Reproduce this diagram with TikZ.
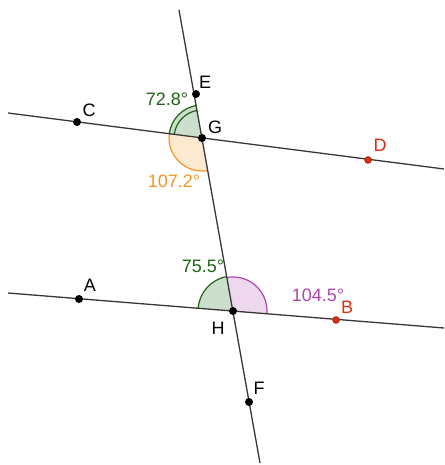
\documentclass[tikz,border=0pt]{standalone}
\usepackage{fontspec}
\setmainfont{Liberation Sans}
\usepackage{xcolor}
\usepackage{tikz}

\definecolor{lineGray}{RGB}{55,55,55}
\definecolor{angGreen}{RGB}{30,100,20}
\definecolor{angGreenFill}{RGB}{204,222,204}
\definecolor{angOrange}{RGB}{245,150,40}
\definecolor{angOrangeFill}{RGB}{252,233,208}
\definecolor{angPink}{RGB}{175,70,175}
\definecolor{angPinkFill}{RGB}{238,216,238}
\definecolor{ptRed}{RGB}{225,45,15}

\tikzset{
    ln/.style={draw=lineGray, line width=1.3pt},
    pt/.style={circle, fill=black, inner sep=0pt, minimum size=8pt},
    ptred/.style={circle, fill=ptRed, draw=ptRed!60!black, line width=0.4pt, inner sep=0pt, minimum size=7pt},
    lbl/.style={font=\fontsize{18}{18}\selectfont, inner sep=0pt},
}

\begin{document}
\begin{tikzpicture}[x=1pt, y=1pt]
    \useasboundingbox (0,0) rectangle (444,465);
    % points
    \coordinate (G) at (202,327);
    \coordinate (H) at (233,154);
    \coordinate (E) at (196,371);
    \coordinate (F) at (249,63);
    \coordinate (C) at (77,343);
    \coordinate (D) at (368,305);
    \coordinate (A) at (79,166);
    \coordinate (B) at (336,145);
    \coordinate (Ttop) at (179,455);
    \coordinate (Tbot) at (260,2);
    \coordinate (CDl) at (8,352);
    \coordinate (CDr) at (444,296);
    \coordinate (ABl) at (8,172);
    \coordinate (ABr) at (444,137);
    % angle fills
    \fill[angGreenFill] (G) -- ++(100.2:33) arc[start angle=100.2, end angle=172.7, radius=33] -- cycle;
    \fill[angOrangeFill] (G) -- ++(172.7:33) arc[start angle=172.7, end angle=280.2, radius=33] -- cycle;
    \fill[angGreenFill] (H) -- ++(100.2:35) arc[start angle=100.2, end angle=175.5, radius=35] -- cycle;
    \fill[angPinkFill] (H) -- ++(-4.5:34) arc[start angle=-4.5, end angle=100.2, radius=34] -- cycle;
    % angle arcs
    \draw[angGreen, line width=1.2pt] (G) ++(100.2:33) arc[start angle=100.2, end angle=172.7, radius=33];
    \draw[angGreen, line width=1.2pt] (G) ++(100.2:28) arc[start angle=100.2, end angle=172.7, radius=28];
    \draw[angOrange, line width=1.2pt] (G) ++(172.7:33) arc[start angle=172.7, end angle=280.2, radius=33];
    \draw[angGreen, line width=1.2pt] (H) ++(100.2:35) arc[start angle=100.2, end angle=175.5, radius=35];
    \draw[angPink, line width=1.2pt] (H) ++(-4.5:34) arc[start angle=-4.5, end angle=100.2, radius=34];
    % lines
    \draw[ln] (CDl) -- (CDr);
    \draw[ln] (ABl) -- (ABr);
    \draw[ln] (Ttop) -- (Tbot);
    % dots
    \node[pt] (dotG) at (G) {};
    \node[pt] (dotH) at (H) {};
    \node[pt] (dotE) at (E) {};
    \node[pt] (dotF) at (F) {};
    \node[pt] (dotC) at (C) {};
    \node[pt] (dotA) at (A) {};
    \node[ptred] (dotD) at (D) {};
    \node[ptred] (dotB) at (B) {};
    % labels
    \node[lbl] (labE) at (205,383) {E};
    \node[lbl] (labG) at (215,338) {G};
    \node[lbl] (labC) at (89,355) {C};
    \node[lbl, text=ptRed] (labD) at (380,320) {D};
    \node[lbl] (labA) at (90,180) {A};
    \node[lbl, text=ptRed] (labB) at (347,158) {B};
    \node[lbl] (labH) at (218,137) {H};
    \node[lbl] (labF) at (259,77) {F};
    \node[lbl, text=angGreen] (ang1) at (167,366) {72.8°};
    \node[lbl, text=angOrange] (ang2) at (174,284) {107.2°};
    \node[lbl, text=angGreen] (ang3) at (203,199) {75.5°};
    \node[lbl, text=angPink] (ang4) at (318,170) {104.5°};
\end{tikzpicture}
\end{document}
